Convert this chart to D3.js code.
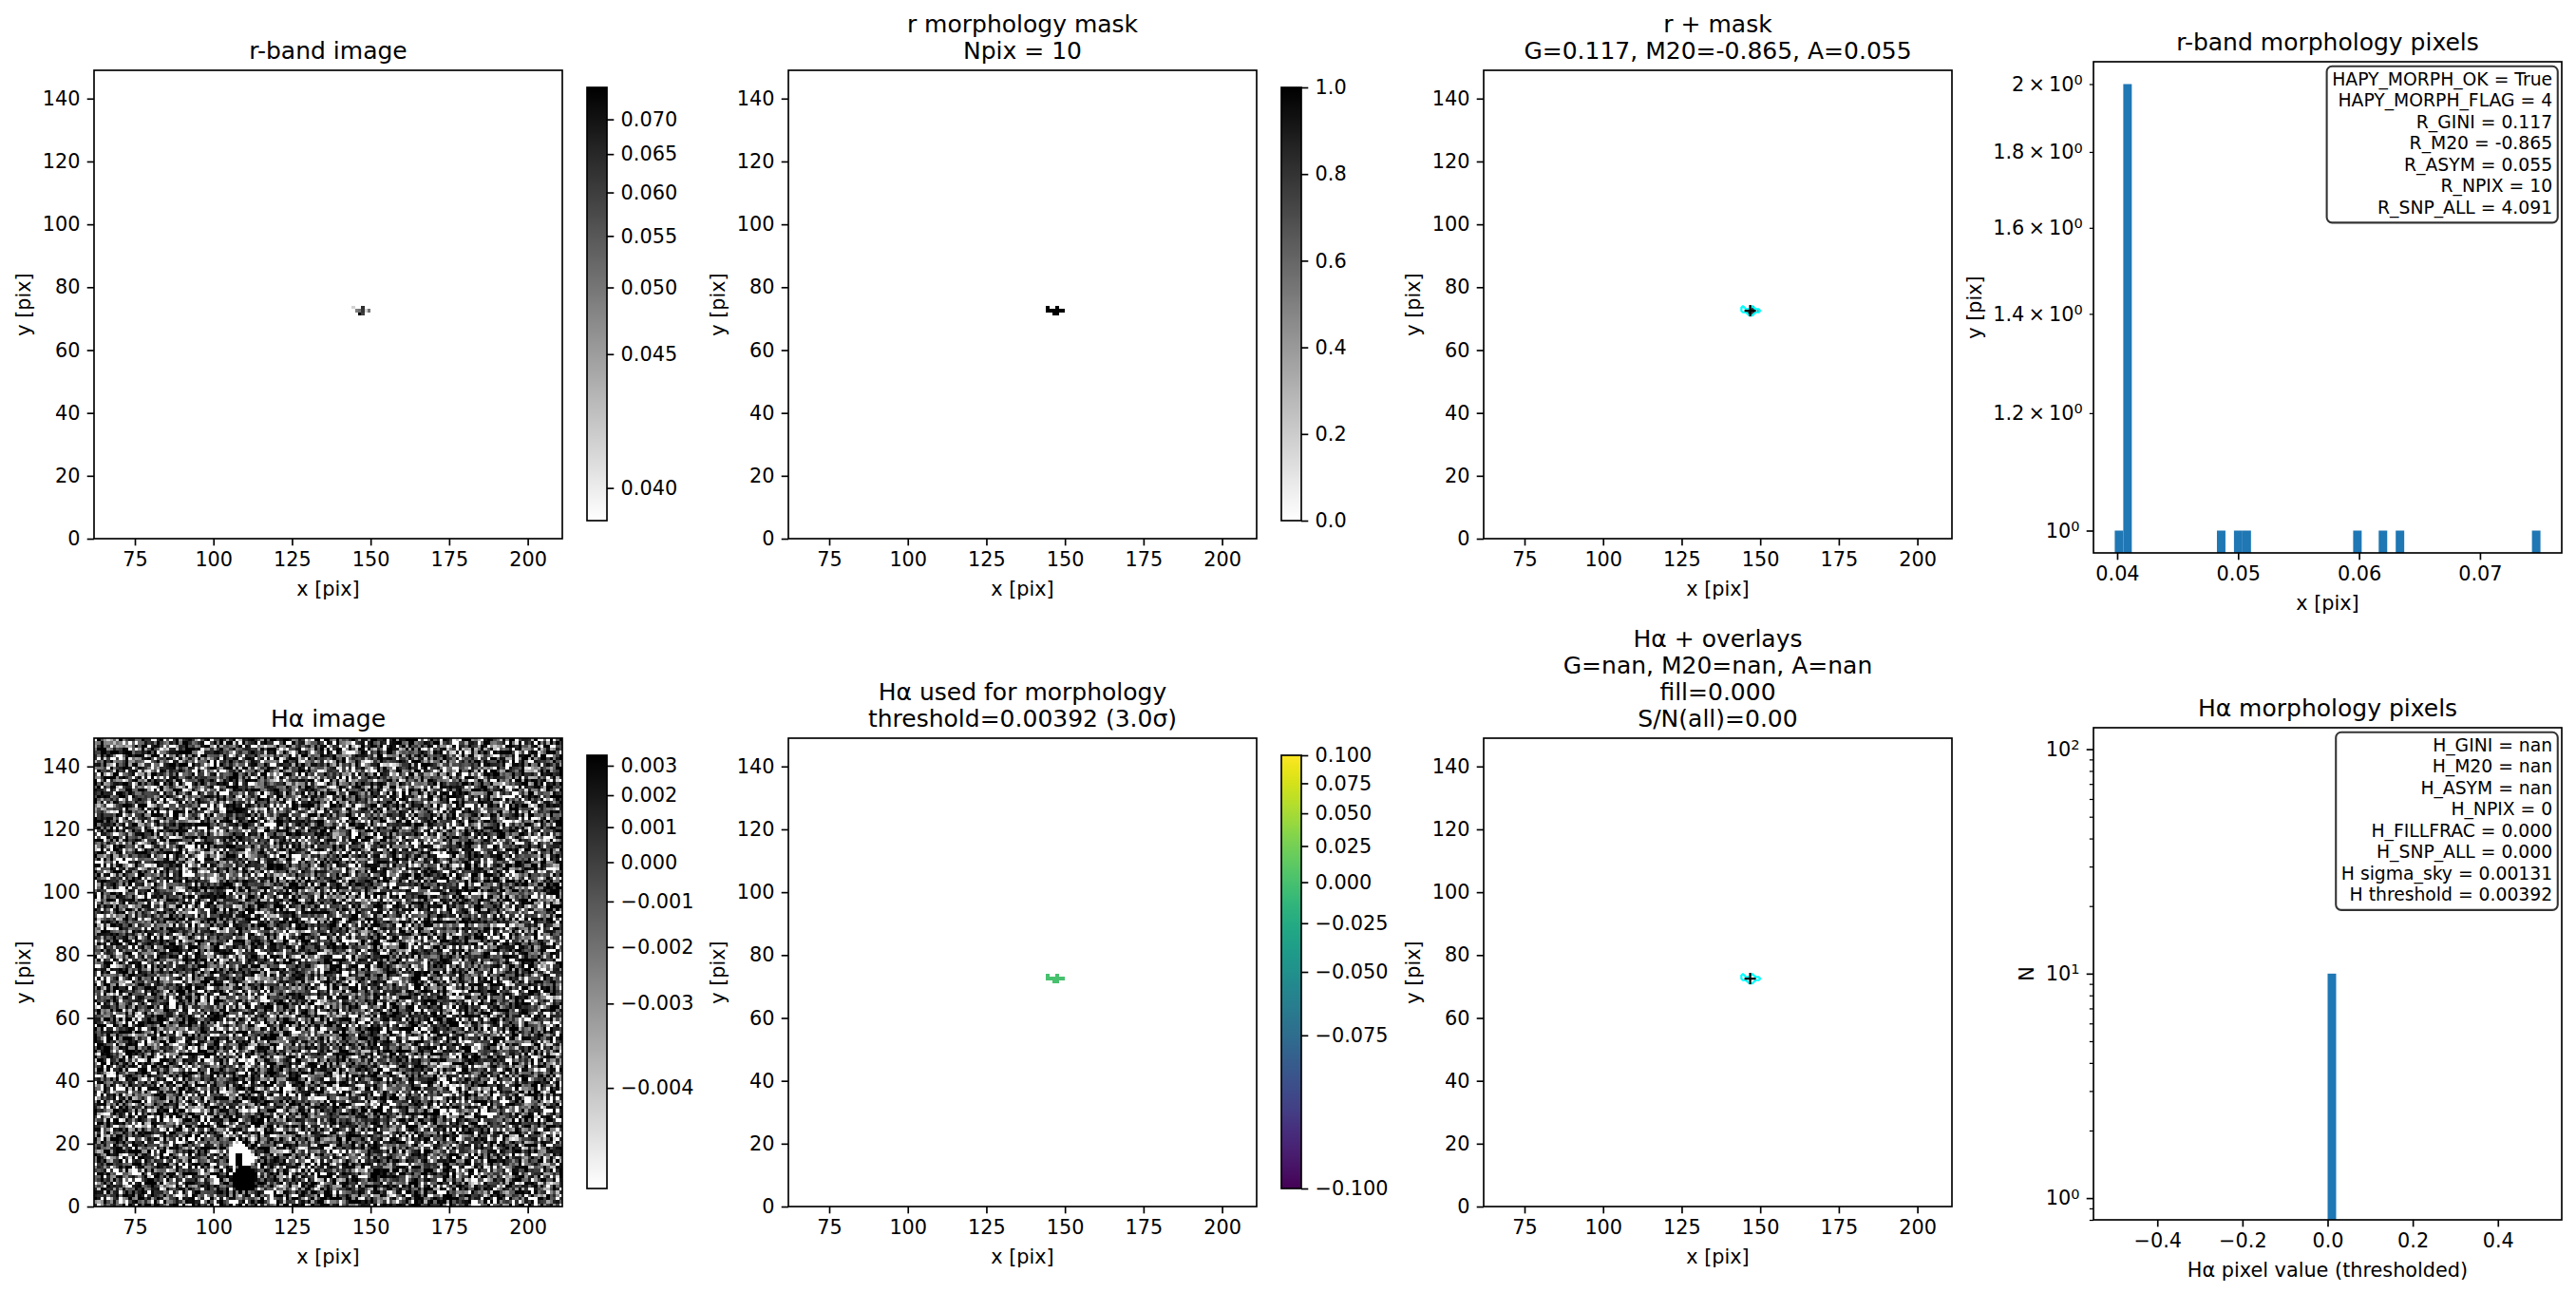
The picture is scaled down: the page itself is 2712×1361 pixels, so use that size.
<!DOCTYPE html>
<html>
<head>
<meta charset="utf-8">
<script src="https://cdn.jsdelivr.net/npm/d3@7"></script>
<style>
  html, body { margin: 0; padding: 0; background: #ffffff; overflow: hidden; }
  svg { display: block; }
  text { font-family: "DejaVu Sans", sans-serif; fill: #000; }
</style>
</head>
<body>
<svg id="fig"></svg>
<script>
// ================= DATA =================
const imgXRange = [62, 211];
const imgYRange = [0, 149];
const imgXTicks = [75, 100, 125, 150, 175, 200];
const imgYTicks = [0, 20, 40, 60, 80, 100, 120, 140];

// morphology-mask pixels (lower-left corner, pix) and their r-band values
const maskPixX = [144, 147, 144, 145, 146, 147, 148, 149, 146, 147];
const maskPixY = [ 73,  73,  72,  72,  72,  72,  72,  72,  71,  71];
const rPixVal  = [0.0409, 0.0634, 0.0398, 0.0486, 0.0507, 0.0620, 0.0408, 0.0500, 0.0750, 0.0600];
// Hα (thresholded) values inside the mask
const haMorphVal = [0, 0, 0, 0, 0, 0, 0, 0, 0, 0];

const rCbarTicks       = [0.040, 0.045, 0.050, 0.055, 0.060, 0.065, 0.070];
const maskCbarTicks    = [0.0, 0.2, 0.4, 0.6, 0.8, 1.0];
const haCbarTicks      = [-0.004, -0.003, -0.002, -0.001, 0.000, 0.001, 0.002, 0.003];
const haMorphCbarTicks = [-0.100, -0.075, -0.050, -0.025, 0.000, 0.025, 0.050, 0.075, 0.100];

const haNormRange      = [-0.00442, 0.00337];
const haMorphNormRange = [-0.1, 0.1];

// Hα cutout: residual blob near (109, 10): runs [y, x0, x1]
const haBlobHighRuns = [[5,107,111],[6,106,112],[7,106,112],[8,106,112],[9,106,112],[10,106,112],
                        [11,107,112],[12,108,111],[13,107,108],[14,107,108],[15,107,108],[16,107,108]];
const haBlobLowRuns  = [[13,105,106],[13,109,111],[14,105,106],[14,109,111],[15,105,106],[15,109,112],
                        [16,105,106],[16,109,111],[17,105,111],[18,106,110],[19,107,109]];
// sky-noise texture of the Hα cutout (individual noise pixels are not readable)
const haNoiseMean = -0.0003, haNoiseSigma = 0.0038, haNoiseSeed = 20240611;

const rHistXTicks  = [0.04, 0.05, 0.06, 0.07];
const rHistYMajor  = [1];
const rHistYMinor  = [1.2, 1.4, 1.6, 1.8, 2.0];
const haHistXTicks = [-0.4, -0.2, 0.0, 0.2, 0.4];
const haHistYMajor = [1, 10, 100];
const haHistYMinor = [0.8, 0.9, 2, 3, 4, 5, 6, 7, 8, 9, 20, 30, 40, 50, 60, 70, 80, 90];
const haHistYLim   = [0.80, 124.6];
const nHistBins    = 50;

const titleR      = ["r-band image"];
const titleMask   = ["r morphology mask", "Npix = " + maskPixX.length];
const titleRMask  = ["r + mask", "G=0.117, M20=-0.865, A=0.055"];
const titleRHist  = ["r-band morphology pixels"];
const titleHa     = ["H\u03b1 image"];
const titleHaMorph= ["H\u03b1 used for morphology", "threshold=0.00392 (3.0\u03c3)"];
const titleHaOver = ["H\u03b1 + overlays", "G=nan, M20=nan, A=nan", "fill=0.000", "S/N(all)=0.00"];
const titleHaHist = ["H\u03b1 morphology pixels"];

const rStatLines  = ["HAPY_MORPH_OK = True", "HAPY_MORPH_FLAG = 4", "R_GINI = 0.117", "R_M20 = -0.865",
                     "R_ASYM = 0.055", "R_NPIX = 10", "R_SNP_ALL = 4.091"];
const haStatLines = ["H_GINI = nan", "H_M20 = nan", "H_ASYM = nan", "H_NPIX = 0", "H_FILLFRAC = 0.000",
                     "H_SNP_ALL = 0.000", "H sigma_sky = 0.00131", "H threshold = 0.00392"];

// ================= LAYOUT / STYLE =================
const W = 2712, H = 1361;
const FS_TICK = 20.8, FS_TITLE = 25, FS_BOX = 18.75;
const TL = 7.3, TP = 7.3, ML = 4.2, MP = 7.1, LW = 1.67, MLW = 1.25;
const TITLE_PAD = 12.5, TITLE_STEP = 28, LABEL_PAD = 8.3, XLABEL_OFF = 60;
const IMG = 493;
const colLeft = [99, 830, 1562];
const rowTop = [74, 777];
const CB = { dx: 519, w: 21, dy: 18, h: 456 };
const HIST = { left: 2204, w: 493, top: [65, 766], h: [517, 518] };

const svg = d3.select('#fig').attr('width', W).attr('height', H).attr('viewBox', `0 0 ${W} ${H}`);
svg.append('rect').attr('width', W).attr('height', H).attr('fill', '#fff');
const defs = svg.append('defs');

const sqrtStretch = (vmin, vmax) => v => Math.sqrt(Math.min(1, Math.max(0, (v - vmin) / (vmax - vmin))));
const linStretch  = (vmin, vmax) => v => Math.min(1, Math.max(0, (v - vmin) / (vmax - vmin)));
const grayR = f => { const c = Math.round(255 * (1 - f)); return `rgb(${c},${c},${c})`; };
const viridis = d3.interpolateViridis;

function styleAxis(g, fs) {
  g.attr('font-family', null).attr('font-size', null).attr('fill', null);
  g.select('.domain').remove();
  g.selectAll('.tick line').attr('stroke', '#000').attr('stroke-width', LW);
  g.selectAll('.tick text').attr('fill', '#000').attr('font-size', fs || FS_TICK);
  return g;
}
function makeAxes(left, top, w, h, x, y, clipId) {
  const g = svg.append('g');
  defs.append('clipPath').attr('id', clipId).append('rect')
    .attr('x', left).attr('y', top).attr('width', w).attr('height', h);
  const content = g.append('g').attr('clip-path', `url(#${clipId})`);
  return { left, top, w, h, x, y, g, content };
}
function frame(p) {
  p.g.append('rect').attr('x', p.left).attr('y', p.top).attr('width', p.w).attr('height', p.h)
    .attr('fill', 'none').attr('stroke', '#000').attr('stroke-width', LW);
}
function title(p, lines) {
  const cx = p.left + p.w / 2, base = p.top - TITLE_PAD;
  lines.forEach((t, i) => svg.append('text').attr('x', cx)
    .attr('y', base - (lines.length - 1 - i) * TITLE_STEP)
    .attr('text-anchor', 'middle').attr('font-size', FS_TITLE).text(t));
}
function xlabel(p, txt) {
  svg.append('text').attr('x', p.left + p.w / 2).attr('y', p.top + p.h + XLABEL_OFF)
    .attr('text-anchor', 'middle').attr('font-size', FS_TICK).text(txt);
}
function ylabel(p, txt, gy) {
  const bb = gy.node().getBBox();
  const bx = p.left + bb.x - LABEL_PAD - 4.3;
  svg.append('text').attr('transform', `translate(${bx},${p.top + p.h / 2}) rotate(-90)`)
    .attr('text-anchor', 'middle').attr('font-size', FS_TICK).text(txt);
}

// ---------- image panels ----------
function imagePanel(col, row, id) {
  const left = colLeft[col], top = rowTop[row];
  const x = d3.scaleLinear().domain(imgXRange).range([left, left + IMG]);
  const y = d3.scaleLinear().domain(imgYRange).range([top + IMG, top]);
  return makeAxes(left, top, IMG, IMG, x, y, id);
}
function imageDecor(p) {
  const gx = p.g.append('g').attr('transform', `translate(0,${p.top + p.h})`)
    .call(d3.axisBottom(p.x).tickValues(imgXTicks).tickFormat(d3.format('d'))
      .tickSizeInner(TL).tickSizeOuter(0).tickPadding(TP));
  styleAxis(gx);
  const gy = p.g.append('g').attr('transform', `translate(${p.left},0)`)
    .call(d3.axisLeft(p.y).tickValues(imgYTicks).tickFormat(d3.format('d'))
      .tickSizeInner(TL).tickSizeOuter(0).tickPadding(TP));
  styleAxis(gy);
  frame(p);
  xlabel(p, 'x [pix]');
  ylabel(p, 'y [pix]', gy);
}
function drawPixels(p, xs, ys, colorFn) {
  p.content.selectAll(null).data(d3.range(xs.length)).join('rect')
    .attr('x', k => p.x(xs[k])).attr('y', k => p.y(ys[k] + 1))
    .attr('width', k => p.x(xs[k] + 1) - p.x(xs[k]))
    .attr('height', k => p.y(ys[k]) - p.y(ys[k] + 1))
    .attr('fill', k => colorFn(k)).attr('shape-rendering', 'crispEdges');
}
let gradCount = 0;
function colorbar(p, vmin, vmax, stretch, cmap, ticks, fmt) {
  const left = p.left + CB.dx, top = p.top + CB.dy, w = CB.w, h = CB.h;
  const gid = 'cbgrad' + (gradCount++);
  const grad = defs.append('linearGradient').attr('id', gid)
    .attr('x1', 0).attr('y1', 1).attr('x2', 0).attr('y2', 0);
  d3.range(0, 1.0001, 0.02).forEach(f => grad.append('stop').attr('offset', f).attr('stop-color', cmap(f)));
  svg.append('rect').attr('x', left).attr('y', top).attr('width', w).attr('height', h).attr('fill', `url(#${gid})`);
  const s = (stretch === 'sqrt' ? d3.scalePow().exponent(0.5) : d3.scaleLinear())
    .domain([0, vmax - vmin]).range([top + h, top]);
  const g = svg.append('g').attr('transform', `translate(${left + w},0)`)
    .call(d3.axisRight(s).tickValues(ticks.map(t => t - vmin))
      .tickFormat(d => fmt(+((d + vmin).toFixed(7)) || 0))
      .tickSizeInner(TL).tickSizeOuter(0).tickPadding(TP));
  styleAxis(g);
  svg.append('rect').attr('x', left).attr('y', top).attr('width', w).attr('height', h)
    .attr('fill', 'none').attr('stroke', '#000').attr('stroke-width', LW);
}
function maskContour(p) {
  const x0 = 138, y0 = 64, n = 18, m = 18;
  const grid = new Array(n * m).fill(0);
  maskPixX.forEach((px, k) => { grid[(px - x0) + (maskPixY[k] - y0) * n] = 1; });
  const cs = d3.contours().size([n, m]).thresholds([0.5])(grid);
  const proj = d3.geoTransform({ point(px, py) { this.stream.point(p.x(x0 + px), p.y(y0 + py)); } });
  p.content.selectAll(null).data(cs).join('path').attr('d', d3.geoPath(proj))
    .attr('fill', 'none').attr('stroke', '#00ffff').attr('stroke-width', 2.2).attr('stroke-linejoin', 'round');
}
function centroidMarker(p) {
  const cx = d3.mean(maskPixX) + 0.5, cy = d3.mean(maskPixY) + 0.5;
  const X = p.x(cx), Y = p.y(cy), r = 6;
  p.content.append('path').attr('d', `M${X - r},${Y}H${X + r}M${X},${Y - r}V${Y + r}`)
    .attr('stroke', '#000').attr('stroke-width', 2.2);
}

const rNorm = sqrtStretch(d3.min(rPixVal), d3.max(rPixVal));

// Panel 1: r-band image
const p1 = imagePanel(0, 0, 'c1');
drawPixels(p1, maskPixX, maskPixY, k => grayR(rNorm(rPixVal[k])));
imageDecor(p1); title(p1, titleR);
colorbar(p1, d3.min(rPixVal), d3.max(rPixVal), 'sqrt', grayR, rCbarTicks, d3.format('.3f'));

// Panel 2: mask
const p2 = imagePanel(1, 0, 'c2');
const maskNorm = linStretch(0, 1);
drawPixels(p2, maskPixX, maskPixY, k => grayR(maskNorm(1)));
imageDecor(p2); title(p2, titleMask);
colorbar(p2, 0, 1, 'linear', grayR, maskCbarTicks, d3.format('.1f'));

// Panel 3: r + mask
const p3 = imagePanel(2, 0, 'c3');
drawPixels(p3, maskPixX, maskPixY, k => grayR(rNorm(rPixVal[k])));
maskContour(p3); centroidMarker(p3);
imageDecor(p3); title(p3, titleRMask);

// Panel 5: Hα image (noise texture + blob)
function mulberry32(a) { return function () { a |= 0; a = a + 0x6D2B79F5 | 0; let t = Math.imul(a ^ a >>> 15, 1 | a);
  t = t + Math.imul(t ^ t >>> 7, 61 | t) ^ t; return ((t ^ t >>> 14) >>> 0) / 4294967296; }; }
const p5 = imagePanel(0, 1, 'c5');
(function () {
  const nx = imgXRange[1] - imgXRange[0], ny = imgYRange[1] - imgYRange[0];
  const rnd = mulberry32(haNoiseSeed);
  const vals = new Float64Array(nx * ny);
  for (let k = 0; k < nx * ny; k++) {
    const u1 = Math.max(rnd(), 1e-12), u2 = rnd();
    vals[k] = haNoiseMean + haNoiseSigma * Math.sqrt(-2 * Math.log(u1)) * Math.cos(2 * Math.PI * u2);
  }
  const setRun = (runs, v) => runs.forEach(([yy, a, b]) => { for (let xx = a; xx <= b; xx++)
    vals[(yy - imgYRange[0]) * nx + (xx - imgXRange[0])] = v; });
  setRun(haBlobHighRuns, 0.01); setRun(haBlobLowRuns, -0.01);
  const norm = sqrtStretch(haNormRange[0], haNormRange[1]);
  const cv = document.createElement('canvas'); cv.width = nx; cv.height = ny;
  const ctx = cv.getContext('2d'); const im = ctx.createImageData(nx, ny);
  for (let r = 0; r < ny; r++) for (let i = 0; i < nx; i++) {
    const j = ny - 1 - r; const c = Math.round(255 * (1 - norm(vals[j * nx + i])));
    const o = (r * nx + i) * 4; im.data[o] = im.data[o + 1] = im.data[o + 2] = c; im.data[o + 3] = 255;
  }
  ctx.putImageData(im, 0, 0);
  p5.content.append('image').attr('href', cv.toDataURL())
    .attr('x', p5.x(imgXRange[0])).attr('y', p5.y(imgYRange[1]))
    .attr('width', p5.x(imgXRange[1]) - p5.x(imgXRange[0])).attr('height', p5.y(imgYRange[0]) - p5.y(imgYRange[1]))
    .attr('preserveAspectRatio', 'none').style('image-rendering', 'pixelated');
})();
imageDecor(p5); title(p5, titleHa);
colorbar(p5, haNormRange[0], haNormRange[1], 'sqrt', grayR, haCbarTicks, d3.format('.3f'));

// Panel 6: Hα used for morphology
const p6 = imagePanel(1, 1, 'c6');
const haMorphNorm = sqrtStretch(haMorphNormRange[0], haMorphNormRange[1]);
drawPixels(p6, maskPixX, maskPixY, k => viridis(haMorphNorm(haMorphVal[k])));
imageDecor(p6); title(p6, titleHaMorph);
colorbar(p6, haMorphNormRange[0], haMorphNormRange[1], 'sqrt', viridis, haMorphCbarTicks, d3.format('.3f'));

// Panel 7: Hα + overlays
const p7 = imagePanel(2, 1, 'c7');
maskContour(p7); centroidMarker(p7);
imageDecor(p7); title(p7, titleHaOver);

// ---------- histogram panels ----------
function histPanel(row, id, xDomain, yDomain) {
  const left = HIST.left, top = HIST.top[row], w = HIST.w, h = HIST.h[row];
  const x = d3.scaleLinear().domain(xDomain).range([left, left + w]);
  const y = d3.scaleLog().domain(yDomain).range([top + h, top]);
  return makeAxes(left, top, w, h, x, y, id);
}
function makeBins(vals) {
  let lo = d3.min(vals), hi = d3.max(vals);
  if (lo === hi) { lo -= 0.5; hi += 0.5; }
  const edges = d3.range(nHistBins + 1).map(k => lo + (hi - lo) * k / nHistBins);
  return { lo, hi, bins: d3.bin().domain([lo, hi]).thresholds(edges.slice(1, -1))(vals) };
}
function drawBars(p, bins) {
  p.content.selectAll(null).data(bins.filter(b => b.length > 0)).join('rect')
    .attr('x', b => p.x(b.x0)).attr('width', b => p.x(b.x1) - p.x(b.x0))
    .attr('y', b => p.y(b.length)).attr('height', b => p.top + p.h - p.y(b.length) + 4)
    .attr('fill', '#1f77b4');
}
function sciText(sel) {
  sel.each(function (v) {
    const t = d3.select(this).text(null);
    const e = Math.floor(Math.log10(v) + 1e-9), mant = v / Math.pow(10, e);
    if (Math.abs(mant - 1) > 1e-9) t.append('tspan').text(d3.format('~g')(+mant.toFixed(3)) + '\u2009\u00d7\u2009');
    t.append('tspan').text('10');
    t.append('tspan').attr('dy', '-0.45em').attr('font-size', '70%').text(String(e));
  });
}
function histDecor(p, xTicks, xFmt, yMajor, yMinor, labelMinor, xl, yl) {
  const gx = p.g.append('g').attr('transform', `translate(0,${p.top + p.h})`)
    .call(d3.axisBottom(p.x).tickValues(xTicks).tickFormat(xFmt)
      .tickSizeInner(TL).tickSizeOuter(0).tickPadding(TP));
  styleAxis(gx);
  const gy = p.g.append('g').attr('transform', `translate(${p.left},0)`);
  const gMaj = gy.append('g').call(d3.axisLeft(p.y).tickValues(yMajor).tickSizeInner(TL).tickSizeOuter(0).tickPadding(TP));
  styleAxis(gMaj); sciText(gMaj.selectAll('.tick text'));
  const gMin = gy.append('g').call(d3.axisLeft(p.y).tickValues(yMinor).tickSizeInner(ML).tickSizeOuter(0).tickPadding(MP));
  styleAxis(gMin); gMin.selectAll('.tick line').attr('stroke-width', MLW);
  if (labelMinor) sciText(gMin.selectAll('.tick text')); else gMin.selectAll('.tick text').remove();
  frame(p);
  xlabel(p, xl);
  ylabel(p, yl, gy);
}
function statBox(p, lines) {
  const g = p.g.append('g');
  const xr = p.left + p.w * 0.98, yt = p.top + p.h * 0.02, step = 22.5;
  const base0 = yt + 0.76 * FS_BOX;
  const rect = g.append('rect');
  const texts = lines.map((t, i) => g.append('text').attr('x', xr).attr('y', base0 + i * step)
    .attr('text-anchor', 'end').attr('font-size', FS_BOX).text(t));
  const maxW = d3.max(texts, t => t.node().getComputedTextLength());
  const pad = 0.3 * FS_BOX;
  const y1 = base0 + (lines.length - 1) * step + 0.22 * FS_BOX + pad;
  rect.attr('x', xr - maxW - pad).attr('y', yt - pad).attr('width', maxW + 2 * pad).attr('height', y1 - yt + pad)
    .attr('rx', pad).attr('fill', 'rgba(255,255,255,0.8)').attr('stroke', 'rgba(0,0,0,0.8)').attr('stroke-width', 2.08);
}

// Panel 4: r-band morphology pixel histogram
const rh = makeBins(rPixVal);
const rSpan = rh.hi - rh.lo;
const rMaxCount = d3.max(rh.bins, b => b.length);
const rLogPad = 0.05 * Math.log10(rMaxCount);
const p4 = histPanel(0, 'c4', [rh.lo - 0.05 * rSpan, rh.hi + 0.05 * rSpan],
  [Math.pow(10, -rLogPad), rMaxCount * Math.pow(10, rLogPad)]);
drawBars(p4, rh.bins);
histDecor(p4, rHistXTicks, d3.format('.2f'), rHistYMajor, rHistYMinor, true, 'x [pix]', 'y [pix]');
title(p4, titleRHist);
statBox(p4, rStatLines);

// Panel 8: Hα morphology pixel histogram
const hh = makeBins(haMorphVal);
const hSpan = hh.hi - hh.lo;
const p8 = histPanel(1, 'c8', [hh.lo - 0.05 * hSpan, hh.hi + 0.05 * hSpan], haHistYLim);
drawBars(p8, hh.bins);
histDecor(p8, haHistXTicks, d3.format('.1f'), haHistYMajor, haHistYMinor, false, 'H\u03b1 pixel value (thresholded)', 'N');
title(p8, titleHaHist);
statBox(p8, haStatLines);
</script>
</body>
</html>
